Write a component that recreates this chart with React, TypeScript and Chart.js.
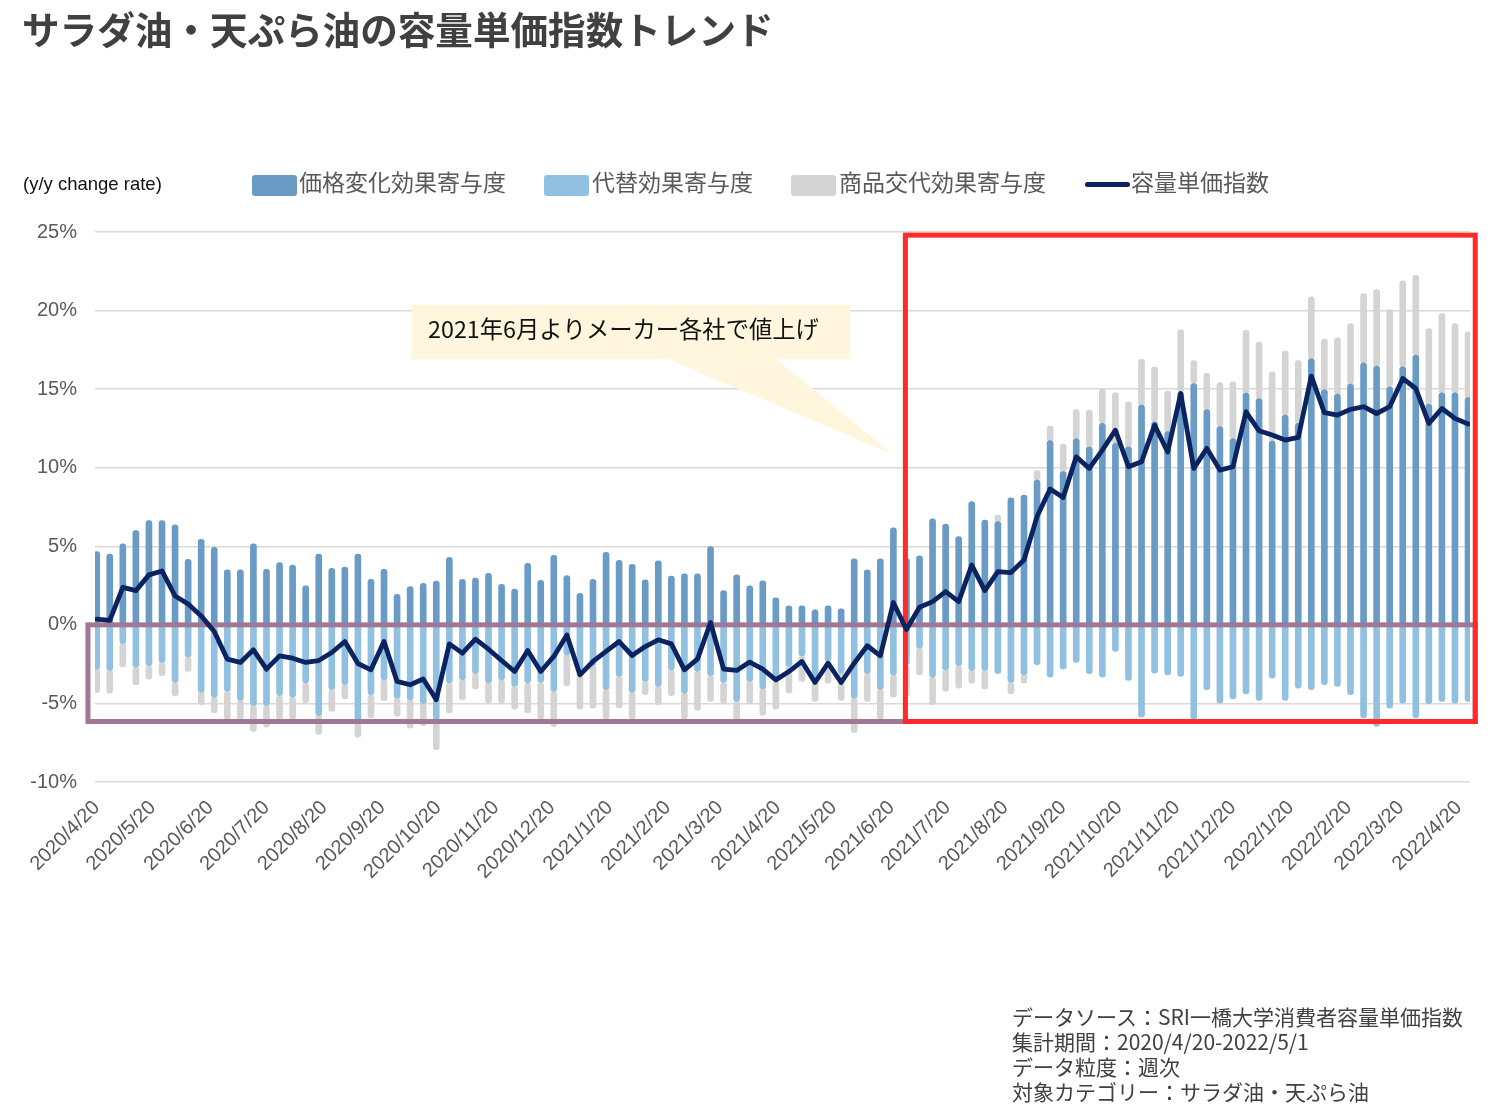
import React, { useEffect, useRef } from "react";
import { Chart, registerables } from "chart.js";

Chart.register(...registerables);

// ---- data (weekly, 2020/4/20 .. 2022/4/25) ----
const startDate = "2020/4/20";

const monthLabels = [
  "2020/4/20", "2020/5/20", "2020/6/20", "2020/7/20", "2020/8/20", "2020/9/20",
  "2020/10/20", "2020/11/20", "2020/12/20", "2021/1/20", "2021/2/20", "2021/3/20",
  "2021/4/20", "2021/5/20", "2021/6/20", "2021/7/20", "2021/8/20", "2021/9/20",
  "2021/10/20", "2021/11/20", "2021/12/20", "2022/1/20", "2022/2/20", "2022/3/20",
  "2022/4/20",
];

const yTickValues = [-10, -5, 0, 5, 10, 15, 20, 25];

const seriesNames = ["価格変化効果寄与度", "代替効果寄与度", "商品交代効果寄与度", "容量単価指数"];

const priceEffect = [
  4.66, 4.51, 5.15, 6.0, 6.63, 6.63, 6.36, 4.17, 5.44, 4.94,
  3.5, 3.5, 5.15, 3.54, 3.96, 3.81, 2.48, 4.51, 3.6, 3.67,
  4.51, 2.9, 3.54, 1.95, 2.44, 2.65, 2.78, 4.3, 2.9, 2.97,
  3.28, 2.58, 2.27, 3.92, 2.84, 4.43, 3.14, 2.01, 2.9, 4.62,
  4.11, 3.85, 2.86, 4.07, 3.11, 3.24, 3.24, 4.98, 2.18, 3.18,
  2.48, 2.8, 1.72, 1.21, 1.21, 0.95, 1.21, 1.02, 4.2, 3.5,
  4.2, 6.17, 4.24, 4.39, 6.74, 6.42, 5.61, 7.84, 6.67, 6.57,
  8.09, 8.26, 9.22, 11.72, 9.75, 11.86, 11.33, 12.82, 11.55, 11.33,
  13.98, 12.92, 12.3, 14.83, 15.36, 13.7, 12.62, 11.86, 14.75, 14.4,
  11.7, 13.35, 12.82, 16.95, 14.98, 14.68, 15.32, 16.67, 16.46, 15.15,
  16.42, 17.16, 14.05, 14.77, 14.77, 14.47,
];

const substitutionEffect = [
  -2.82, -2.9, -1.2, -2.69, -2.6, -2.39, -3.67, -2.06, -4.3, -4.6,
  -4.24, -4.81, -5.15, -5.15, -4.51, -4.6, -3.7, -5.78, -4.13, -3.81,
  -6.08, -4.45, -3.5, -4.66, -4.77, -5.02, -6.04, -3.7, -3.5, -3.11,
  -3.7, -3.5, -3.92, -3.7, -3.67, -4.24, -1.91, -3.28, -2.6, -4.13,
  -3.28, -4.3, -3.6, -3.92, -2.86, -4.34, -2.97, -3.24, -3.67, -4.87,
  -3.6, -4.07, -3.6, -2.65, -1.97, -3.67, -2.33, -3.07, -4.66, -3.11,
  -4.13, -3.18, -2.54, -1.48, -3.33, -2.86, -2.6, -2.9, -2.9, -3.11,
  -3.67, -3.18, -2.54, -3.33, -2.82, -2.39, -3.11, -3.33, -1.69, -3.54,
  -5.87, -3.07, -3.18, -3.28, -6.0, -4.13, -4.98, -4.72, -4.39, -4.81,
  -3.39, -4.81, -4.03, -4.13, -3.81, -3.92, -4.45, -5.93, -6.46, -5.3,
  -4.98, -5.93, -5.02, -4.87, -4.98, -4.87,
];

const productChangeEffect = [
  -1.48, -1.44, -1.48, -1.14, -0.85, -0.85, -0.85, -0.91, -0.78, -1.0,
  -1.76, -1.23, -1.63, -1.36, -1.5, -1.4, -1.27, -1.2, -1.38, -0.91,
  -1.06, -1.48, -1.33, -1.17, -1.8, -1.4, -1.9, -1.9, -1.27, -0.98,
  -1.27, -1.48, -1.44, -1.9, -2.33, -2.22, -1.97, -2.08, -2.7, -1.87,
  -2.0, -1.7, -0.85, -1.16, -1.65, -1.66, -2.48, -1.63, -1.35, -1.17,
  -1.42, -1.69, -1.76, -1.69, -1.63, -1.2, -1.38, -1.74, -2.18, -1.76,
  -1.87, -1.42, -2.0, -1.7, -1.75, -1.38, -1.43, -0.81, -1.19, 0.42,
  -0.72, -0.53, 0.59, 0.93, 1.75, 1.84, 2.34, 2.18, 3.22, 2.86,
  2.92, 3.5, 2.57, 3.96, 1.45, 2.3, 2.8, 3.6, 4.0, 3.6,
  4.4, 4.09, 4.0, 3.92, 3.2, 3.58, 3.85, 4.41, 4.87, 4.91,
  5.47, 5.09, 4.81, 5.04, 4.4, 4.17,
];

const unitPriceIndex = [
  0.36, 0.28, 2.39, 2.18, 3.18, 3.43, 1.84, 1.33, 0.57, -0.42,
  -2.18, -2.39, -1.59, -2.82, -1.97, -2.12, -2.39, -2.27, -1.76, -1.06,
  -2.46, -2.86, -1.06, -3.6, -3.81, -3.45, -4.77, -1.21, -1.8, -0.91,
  -1.55, -2.27, -2.97, -1.63, -2.97, -2.01, -0.64, -3.18, -2.33, -1.69,
  -1.06, -1.95, -1.38, -0.95, -1.21, -2.86, -2.18, 0.15, -2.82, -2.9,
  -2.37, -2.82, -3.5, -2.97, -2.33, -3.67, -2.44, -3.67, -2.44, -1.33,
  -1.97, 1.42, -0.3, 1.12, 1.48, 2.12, 1.48, 3.81, 2.18, 3.39,
  3.33, 4.13, 6.89, 8.64, 8.11, 10.7, 9.96, 11.12, 12.39, 10.06,
  10.38, 12.71, 11.0, 14.72, 9.96, 11.23, 9.85, 10.06, 13.56, 12.35,
  12.08, 11.76, 11.93, 15.83, 13.5, 13.35, 13.71, 13.88, 13.45, 13.88,
  15.68, 15.04, 12.82, 13.77, 13.14, 12.78,
];

const calloutText = "2021年6月よりメーカー各社で値上げ";
const footerLines = [
  "データソース：SRI一橋大学消費者容量単価指数",
  "集計期間：2020/4/20-2022/5/1",
  "データ粒度：週次",
  "対象カテゴリー：サラダ油・天ぷら油",
];

// ---- styles ----
const C_PRICE = "#6A9BC4";
const C_SUBST = "#92C0E0";
const C_PROD = "#D4D4D4";
const C_INDEX = "#0B2461";
const LATIN = "'Liberation Sans', Arial, 'Noto Sans CJK JP', sans-serif";
const JP = "'Noto Sans CJK JP', 'Liberation Sans', sans-serif";

function weekIndexOf(label: string): number {
  const [y, m, d] = label.split("/").map(Number);
  const [sy, sm, sd] = startDate.split("/").map(Number);
  return (Date.UTC(y, m - 1, d) - Date.UTC(sy, sm - 1, sd)) / (7 * 86400000);
}
const monthTickPos = monthLabels.map(weekIndexOf);

const toXY = (arr: number[]) => arr.map((v, i) => ({ x: i, y: v }));

const radius = { topLeft: 3, topRight: 3, bottomLeft: 3, bottomRight: 3 };

const overlayPlugin = {
  id: "overlay",
  afterDatasetDraw(chart: any, args: any) {
    if (args.index !== 0) return;
    const { ctx } = chart;
    const x = chart.scales.x;
    const y = chart.scales.y;
    const px = (v: number) => x.getPixelForValue(v);
    const py = (v: number) => y.getPixelForValue(v);
    ctx.save();
    ctx.lineWidth = 5;
    ctx.strokeStyle = "#A07896";
    ctx.strokeRect(px(-0.67), py(0), px(105.55) - px(-0.67), py(-6.15) - py(0));
    ctx.strokeStyle = "#FF2A2A";
    ctx.strokeRect(px(61.92), py(24.8), px(105.55) - px(61.92), py(-6.15) - py(24.8));
    ctx.restore();
  },
  afterDatasetsDraw(chart: any) {
    const { ctx } = chart;
    const x = chart.scales.x;
    const y = chart.scales.y;
    const px = (v: number) => x.getPixelForValue(v);
    const py = (v: number) => y.getPixelForValue(v);
    ctx.save();
    ctx.fillStyle = "#FFF6DD";
    ctx.beginPath();
    ctx.moveTo(px(43.74), py(16.9));
    ctx.lineTo(px(52.04), py(16.9));
    ctx.lineTo(px(60.97), py(10.86));
    ctx.closePath();
    ctx.fill();
    ctx.fillRect(px(24.1), py(20.36), px(57.71) - px(24.1), py(16.9) - py(20.36));
    ctx.fillStyle = "#111111";
    ctx.font = `23.3px ${JP}`;
    ctx.textBaseline = "middle";
    ctx.textAlign = "left";
    ctx.fillText(calloutText, px(25.37), py(18.83));
    ctx.restore();
  },
};

export default function App() {
  const ref = useRef<HTMLCanvasElement>(null);

  useEffect(() => {
    const barCommon = {
      type: "bar" as const,
      barThickness: 6,
      borderRadius: radius,
      borderSkipped: false,
      order: 1,
    };
    const chart = new Chart(ref.current as HTMLCanvasElement, {
      type: "bar",
      data: {
        datasets: [
          { ...barCommon, label: seriesNames[0], data: toXY(priceEffect), backgroundColor: C_PRICE },
          { ...barCommon, label: seriesNames[1], data: toXY(substitutionEffect), backgroundColor: C_SUBST },
          { ...barCommon, label: seriesNames[2], data: toXY(productChangeEffect), backgroundColor: C_PROD },
          {
            type: "line",
            label: seriesNames[3],
            data: toXY(unitPriceIndex),
            borderColor: C_INDEX,
            backgroundColor: C_INDEX,
            borderWidth: 4.8,
            pointRadius: 0,
            tension: 0,
            borderJoinStyle: "round",
            borderCapStyle: "round",
            stack: "index",
            order: 0,
          } as any,
        ],
      },
      options: {
        responsive: false,
        devicePixelRatio: 1,
        animation: false,
        layout: { padding: { left: 0, right: 38, top: 232, bottom: 238 } },
        plugins: { legend: { display: false }, tooltip: { enabled: false } },
        scales: {
          x: {
            type: "linear",
            offset: false,
            min: -0.13,
            max: 105.15,
            stacked: true,
            grid: { display: false, drawTicks: false },
            border: { display: false },
            afterBuildTicks: (axis: any) => {
              axis.ticks = monthTickPos.map((v) => ({ value: v }));
            },
            afterFit: (scale: any) => {
              scale.height = 100;
            },
            ticks: {
              autoSkip: false,
              minRotation: 45,
              maxRotation: 45,
              padding: 14,
              color: "#595959",
              font: { family: LATIN, size: 20 },
              callback: (_v: any, i: number) => monthLabels[i],
            },
          },
          y: {
            type: "linear",
            min: -10,
            max: 25,
            stacked: true,
            afterBuildTicks: (axis: any) => {
              axis.ticks = yTickValues.map((v) => ({ value: v }));
            },
            afterFit: (scale: any) => {
              scale.width = 95;
            },
            grid: { color: "#D9D9D9", lineWidth: 1.5, drawTicks: false },
            border: { display: false },
            ticks: {
              padding: 18,
              color: "#595959",
              font: { family: LATIN, size: 20 },
              callback: (v: any) => `${v}%`,
            },
          },
        },
      },
      plugins: [overlayPlugin],
    } as any);
    return () => chart.destroy();
  }, []);

  const legendItems = [
    { x: 252, color: C_PRICE, text: seriesNames[0], tx: 299 },
    { x: 544, color: C_SUBST, text: seriesNames[1], tx: 592 },
    { x: 791, color: C_PROD, text: seriesNames[2], tx: 839 },
  ];

  return (
    <div
      style={{
        position: "absolute",
        left: 0,
        top: 0,
        width: 1508,
        height: 1120,
        background: "#ffffff",
        overflow: "hidden",
      }}
    >
      <canvas
        ref={ref}
        width={1508}
        height={1120}
        style={{ position: "absolute", left: 0, top: 0, width: 1508, height: 1120 }}
      />
      <div
        style={{
          position: "absolute",
          left: 22,
          top: 9,
          fontFamily: JP,
          fontWeight: 700,
          fontSize: 37.6,
          lineHeight: "37px",
          color: "#404040",
          whiteSpace: "nowrap",
        }}
      >
        サラダ油・天ぷら油の容量単価指数トレンド
      </div>
      <div
        style={{
          position: "absolute",
          left: 23,
          top: 172,
          fontFamily: LATIN,
          fontSize: 18.5,
          lineHeight: "24px",
          color: "#111111",
          whiteSpace: "nowrap",
        }}
      >
        (y/y change rate)
      </div>
      {legendItems.map((it) => (
        <React.Fragment key={it.text}>
          <div
            style={{
              position: "absolute",
              left: it.x,
              top: 175,
              width: 45,
              height: 21,
              borderRadius: 3,
              background: it.color,
            }}
          />
          <div
            style={{
              position: "absolute",
              left: it.tx,
              top: 165,
              fontFamily: JP,
              fontSize: 23,
              lineHeight: "32px",
              color: "#595959",
              whiteSpace: "nowrap",
            }}
          >
            {it.text}
          </div>
        </React.Fragment>
      ))}
      <div
        style={{
          position: "absolute",
          left: 1085,
          top: 182,
          width: 45,
          height: 5,
          borderRadius: 3,
          background: C_INDEX,
        }}
      />
      <div
        style={{
          position: "absolute",
          left: 1131,
          top: 165,
          fontFamily: JP,
          fontSize: 23,
          lineHeight: "32px",
          color: "#595959",
          whiteSpace: "nowrap",
        }}
      >
        {seriesNames[3]}
      </div>
      <div
        style={{
          position: "absolute",
          left: 1012,
          top: 1004,
          fontFamily: JP,
          fontSize: 21,
          lineHeight: "25px",
          color: "#404040",
          whiteSpace: "nowrap",
        }}
      >
        {footerLines.map((l) => (
          <div key={l}>{l}</div>
        ))}
      </div>
    </div>
  );
}
